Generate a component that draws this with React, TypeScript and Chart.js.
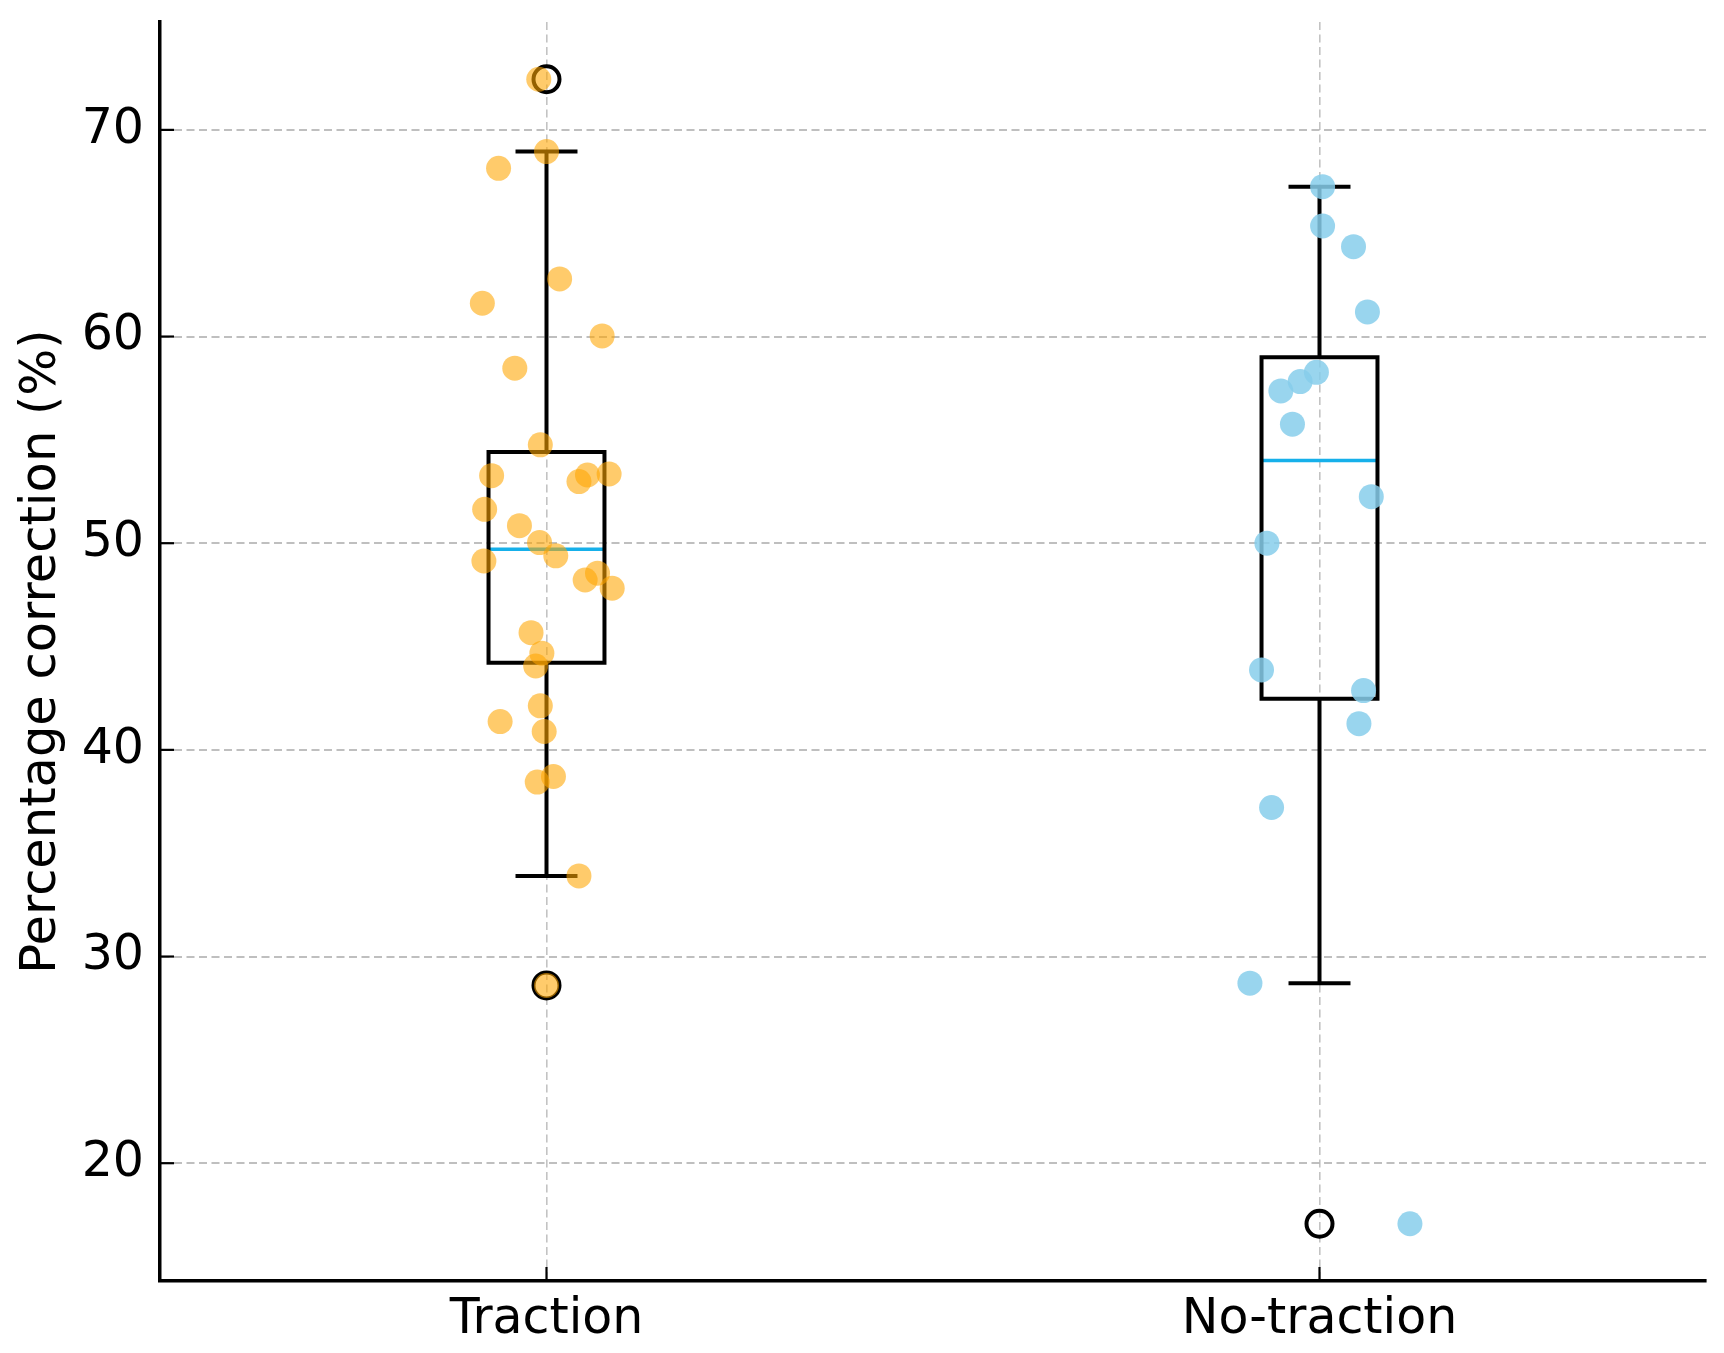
import React, { useEffect, useRef } from "react";
import { Chart, registerables } from "chart.js";

Chart.register(...registerables);

// ---------- data ----------
const categories = ["Traction", "No-traction"];
const yTicks = [20, 30, 40, 50, 60, 70];

const tractionValues = [
  72.45, 68.95, 68.14, 62.79, 61.61, 60.03, 58.47, 54.76, 53.27, 52.98,
  53.3, 53.35, 51.64, 50.85, 50.03, 49.39, 49.14, 48.55, 48.22, 47.82,
  45.67, 44.68, 44.06, 42.13, 41.37, 40.89, 38.71, 38.44, 33.9, 28.6,
];
const tractionJitter = [
  -0.01, 0.0, -0.062, 0.017, -0.083, 0.072, -0.041, -0.008, -0.071, 0.042,
  0.053, 0.081, -0.08, -0.035, -0.009, 0.012, -0.081, 0.066, 0.05, 0.085,
  -0.02, -0.006, -0.014, -0.008, -0.06, -0.003, 0.009, -0.012, 0.042, 0.0,
];

const noTractionValues = [
  67.25, 65.35, 64.35, 61.19, 58.27, 57.82, 57.37, 55.76, 52.25, 50.0,
  43.87, 42.87, 41.27, 37.21, 28.71, 17.07,
];
const noTractionJitter = [
  0.004, 0.004, 0.044, 0.062, -0.004, -0.025, -0.05, -0.035, 0.067, -0.068,
  -0.075, 0.057, 0.051, -0.062, -0.09, 0.117,
];

const boxQ1 = [44.22, 42.47];
const boxMedian = [49.71, 54.0];
const boxQ3 = [54.41, 59.0];
const whiskerLow = [33.9, 28.71];
const whiskerHigh = [68.95, 67.25];
const outlierValues = [[72.45, 28.6], [17.07]];

// ---------- styling ----------
const BOX_HALF = 0.075;
const CAP_HALF = 0.0375;
const FONT = "'DejaVu Sans', sans-serif";

export default function App() {
  const ref = useRef<HTMLCanvasElement>(null);

  useEffect(() => {
    if (!ref.current) return;

    const lineDs = (pts: { x: number; y: number }[], color: string, width: number, cap: string = "butt") => ({
      type: "scatter",
      data: pts,
      showLine: true,
      borderColor: color,
      backgroundColor: color,
      borderWidth: width,
      pointRadius: 0,
      pointHoverRadius: 0,
      fill: false,
      tension: 0,
      borderJoinStyle: "miter",
      borderCapStyle: cap,
      order: 2,
    });

    const datasets: any[] = [];

    categories.forEach((_, i) => {
      const l = i - BOX_HALF;
      const r = i + BOX_HALF;
      datasets.push(
        lineDs(
          [
            { x: l, y: boxQ1[i] },
            { x: r, y: boxQ1[i] },
            { x: r, y: boxQ3[i] },
            { x: l, y: boxQ3[i] },
            { x: l, y: boxQ1[i] },
          ],
          "#000",
          4,
          "square"
        )
      );
      datasets.push(lineDs([{ x: i, y: boxQ1[i] }, { x: i, y: whiskerLow[i] }], "#000", 4));
      datasets.push(lineDs([{ x: i, y: boxQ3[i] }, { x: i, y: whiskerHigh[i] }], "#000", 4));
      datasets.push(
        lineDs([{ x: i - CAP_HALF, y: whiskerLow[i] }, { x: i + CAP_HALF, y: whiskerLow[i] }], "#000", 4, "square")
      );
      datasets.push(
        lineDs([{ x: i - CAP_HALF, y: whiskerHigh[i] }, { x: i + CAP_HALF, y: whiskerHigh[i] }], "#000", 4, "square")
      );
      datasets.push(lineDs([{ x: l, y: boxMedian[i] }, { x: r, y: boxMedian[i] }], "#16b0ea", 3.5));
      datasets.push({
        type: "scatter",
        data: outlierValues[i].map((v) => ({ x: i, y: v })),
        pointRadius: 13,
        pointHoverRadius: 13,
        backgroundColor: "rgba(0,0,0,0)",
        borderColor: "#000",
        borderWidth: 4,
        order: 1,
      });
    });

    datasets.push({
      type: "scatter",
      data: tractionValues.map((v, k) => ({ x: 0 + tractionJitter[k], y: v })),
      pointRadius: 12.5,
      pointHoverRadius: 12.5,
      borderWidth: 0,
      backgroundColor: "rgba(255,165,0,0.58)",
      order: 0,
    });
    datasets.push({
      type: "scatter",
      data: noTractionValues.map((v, k) => ({ x: 1 + noTractionJitter[k], y: v })),
      pointRadius: 12.5,
      pointHoverRadius: 12.5,
      borderWidth: 0,
      backgroundColor: "rgba(135,206,235,0.85)",
      order: 0,
    });

    const inwardTicks = {
      id: "inwardTicks",
      afterDatasetsDraw(chart: any) {
        const { ctx, chartArea, scales } = chart;
        ctx.save();
        ctx.strokeStyle = "#000";
        ctx.lineWidth = 2.2;
        scales.y.ticks.forEach((t: any) => {
          const y = scales.y.getPixelForValue(t.value);
          ctx.beginPath();
          ctx.moveTo(chartArea.left, y);
          ctx.lineTo(chartArea.left + 14, y);
          ctx.stroke();
        });
        scales.x.ticks.forEach((t: any) => {
          const x = scales.x.getPixelForValue(t.value);
          ctx.beginPath();
          ctx.moveTo(x, chartArea.bottom);
          ctx.lineTo(x, chartArea.bottom - 14);
          ctx.stroke();
        });
        ctx.restore();
      },
    };

    const chart = new Chart(ref.current, {
      type: "scatter",
      data: { datasets },
      plugins: [inwardTicks],
      options: {
        responsive: false,
        animation: false,
        events: [],
        layout: { padding: { left: 0, right: 18, top: 22, bottom: 0 } },
        plugins: { legend: { display: false }, tooltip: { enabled: false } },
        scales: {
          x: {
            type: "linear",
            min: -0.5,
            max: 1.5,
            afterBuildTicks: (scale: any) => {
              scale.ticks = categories.map((_, i) => ({ value: i }));
            },
            afterFit: (scale: any) => {
              scale.height = 72;
              scale.paddingLeft = 0;
              scale.paddingRight = 0;
            },
            ticks: {
              callback: (v: any) => categories[v as number] ?? "",
              font: { family: FONT, size: 49 },
              color: "#000",
              padding: 10,
              maxRotation: 0,
              autoSkip: false,
            },
            grid: {
              color: "rgba(170,170,170,0.7)",
              lineWidth: 1.6,
              drawTicks: false,
            },
            border: { display: true, color: "#000", width: 3.5, dash: [8, 4.5] },
          },
          y: {
            type: "linear",
            min: 14.3,
            max: 75.22,
            afterBuildTicks: (scale: any) => {
              scale.ticks = yTicks.map((v) => ({ value: v }));
            },
            afterFit: (scale: any) => {
              scale.width = 160;
              scale.paddingTop = 0;
              scale.paddingBottom = 0;
            },
            ticks: {
              font: { family: FONT, size: 49 },
              color: "#000",
              padding: 16,
              autoSkip: false,
            },
            grid: {
              color: "rgba(170,170,170,0.75)",
              lineWidth: 2,
              drawTicks: false,
            },
            border: { display: true, color: "#000", width: 3.5, dash: [8, 4.5] },
            title: {
              display: true,
              text: "Percentage correction (%)",
              font: { family: FONT, size: 49.5 },
              color: "#000",
              padding: { top: 12, bottom: 0 },
            },
          },
        },
      } as any,
    } as any);

    return () => chart.destroy();
  }, []);

  return (
    <div style={{ position: "fixed", left: 0, top: 0, width: 1724, height: 1353, background: "#fff" }}>
      <canvas ref={ref} width={1724} height={1353} style={{ display: "block" }} />
    </div>
  );
}
